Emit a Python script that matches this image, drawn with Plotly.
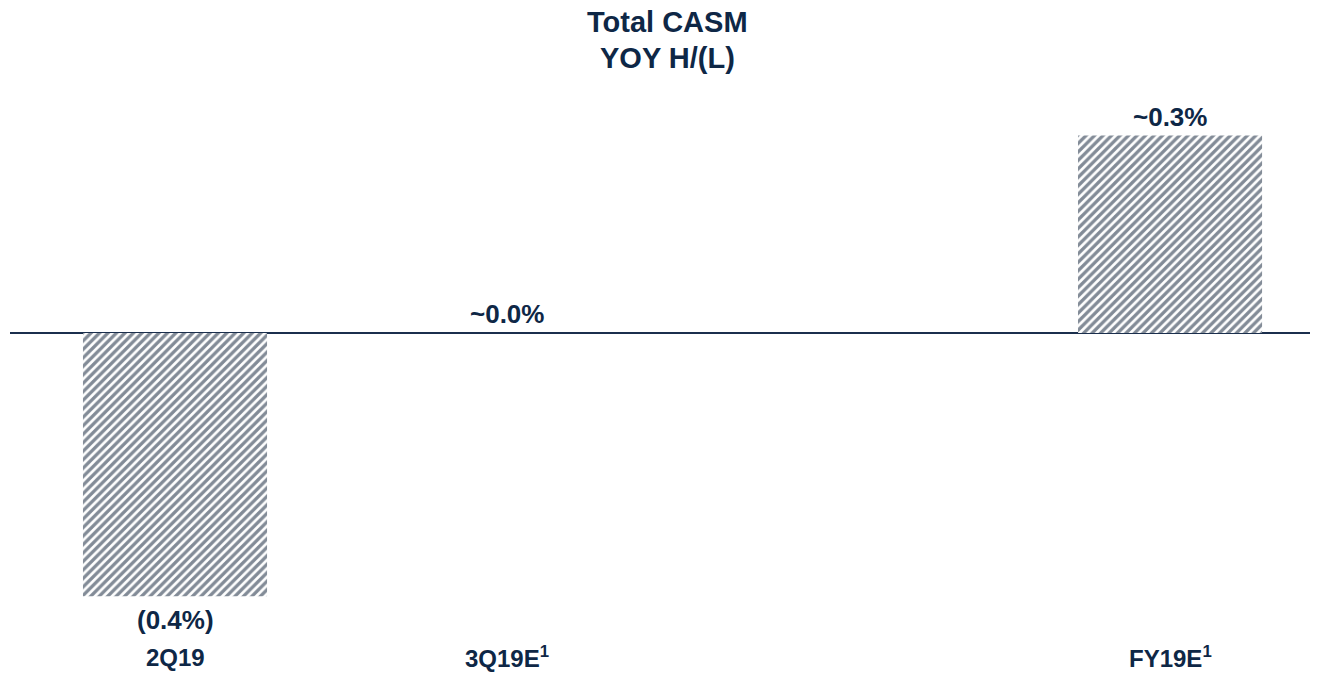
import plotly.graph_objects as go

categories = ["2Q19", "3Q19E", " ", "FY19E"]
footnotes = ["", "1", "", "1"]
values = [-0.4, 0.0, None, 0.3]
value_labels = ["(0.4%)", "~0.0%", "", "~0.3%"]
title_lines = ["Total CASM", "YOY H/(L)"]

NAVY = "#0e2746"
HATCH = "#061830"
FONT = "Liberation Sans, Arial, sans-serif"

fig = go.Figure()
fig.add_trace(go.Bar(
    x=categories,
    y=values,
    width=0.555,
    marker=dict(
        color="white",
        line=dict(width=0),
        pattern=dict(shape="/", fgcolor=HATCH, bgcolor="white", size=6, solidity=0.55),
    ),
    hoverinfo="skip",
))

annotations = []
for cat, v, lab, fn in zip(categories, values, value_labels, footnotes):
    if v is None:
        continue
    shift = -24 if v < 0 else 19
    annotations.append(dict(x=cat, y=v, text=f"<b>{lab}</b>", showarrow=False,
                            yanchor="middle", yshift=shift,
                            font=dict(size=26, color=NAVY, family=FONT)))
    sup = f"<sup>{fn}</sup>" if fn else ""
    annotations.append(dict(x=cat, y=0, yref="paper", text=f"<b>{cat}{sup}</b>", showarrow=False,
                            yanchor="middle", yshift=-57,
                            font=dict(size=24, color=NAVY, family=FONT)))

for line, shift in zip(title_lines, [78, 42]):
    annotations.append(dict(x=0.506, xref="paper", y=1, yref="paper", text=f"<b>{line}</b>",
                            showarrow=False, xanchor="center", yanchor="middle", yshift=shift,
                            font=dict(size=29, color=NAVY, family=FONT)))

fig.update_layout(
    width=1313, height=665,
    paper_bgcolor="white", plot_bgcolor="white",
    margin=dict(l=2, r=11, t=92, b=73),
    showlegend=False,
    xaxis=dict(type="category", range=[-0.4975, 3.422], showticklabels=False,
               showgrid=False, zeroline=False, showline=False, ticks=""),
    yaxis=dict(range=[-0.4058, 0.3541], showticklabels=False, showgrid=False,
               zeroline=True, zerolinecolor="#1b2f4d", zerolinewidth=2, showline=False, ticks=""),
    annotations=annotations,
)

fig.write_html("out.html")
